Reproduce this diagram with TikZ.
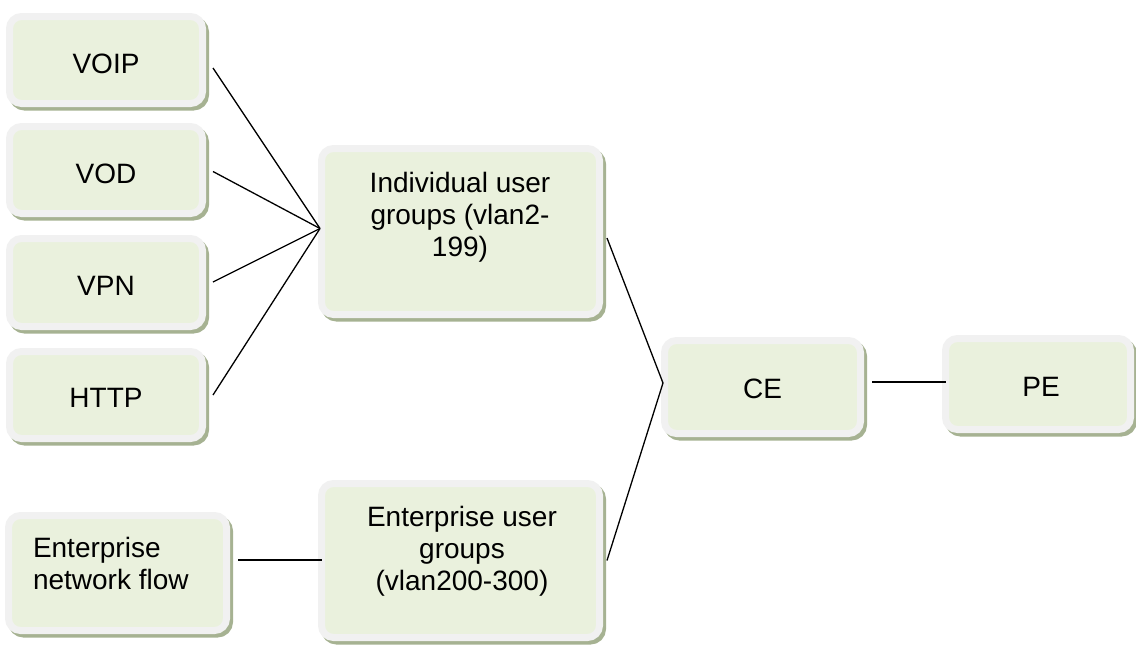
\documentclass[tikz,border=0pt]{standalone}
\usepackage{fontspec}
\setmainfont{Liberation Sans}
\usetikzlibrary{calc}
\definecolor{fillc}{HTML}{EAF1DD}
\definecolor{bordc}{HTML}{F1F1F1}
\definecolor{shadc}{HTML}{A6B292}
\tikzset{
  box/.style={draw=bordc, fill=fillc, line width=7pt, rounded corners=12pt,
    inner sep=0pt, outer sep=0pt,
    preaction={draw=shadc, fill=shadc, line width=7pt,
      transform canvas={shift={(3pt,-3.5pt)}}}},
  lbl/.style={inner sep=0pt, outer sep=0pt, anchor=base,
    font=\fontsize{28pt}{32pt}\selectfont, align=center},
  conn/.style={draw=black, line width=1.3pt}
}
\begin{document}
\begin{tikzpicture}[x=1pt,y=-1pt]
\useasboundingbox (0,0) rectangle (1136,646);
% boxes
\node[box, minimum width=193pt, minimum height=87pt] (voip) at (106,60) {};
\node[box, minimum width=193pt, minimum height=87pt] (vod) at (106,170) {};
\node[box, minimum width=193pt, minimum height=88pt] (vpn) at (106,282.5) {};
\node[box, minimum width=193pt, minimum height=87pt] (http) at (106,395) {};
\node[box, minimum width=278pt, minimum height=166pt] (ind) at (460.5,231.5) {};
\node[box, minimum width=218pt, minimum height=115pt] (enf) at (117.5,573) {};
\node[box, minimum width=278pt, minimum height=154pt] (eug) at (460.5,560.5) {};
\node[box, minimum width=196pt, minimum height=93pt] (ce) at (762.5,387) {};
\node[box, minimum width=185pt, minimum height=91pt] (pe) at (1038,384) {};
% labels (multi-line labels are placed by the baseline of their last line)
\node[lbl] (voipt) at (106,73) {VOIP};
\node[lbl] (vodt) at (106,183) {VOD};
\node[lbl] (vpnt) at (106,295) {VPN};
\node[lbl] (httpt) at (106,407) {HTTP};
\node[lbl] (indt) at (460,256.5) {Individual user\\groups (vlan2-\\199)};
\node[lbl, align=left, anchor=base west] (enft) at (33,589) {Enterprise\\network flow};
\node[lbl] (eugt) at (462,590.5) {Enterprise user\\groups\\(vlan200-300)};
\node[lbl] (cet) at (762.5,398) {CE};
\node[lbl] (pet) at (1041,396) {PE};
% connectors
\coordinate (hub) at ($(ind.west)+(-1.5,-3)$);
\coordinate (cehub) at ($(ce.west)+(-1.5,-4)$);
\draw[conn] ($(voip.east)+(10.5,8)$) -- (hub);
\draw[conn] ($(vod.east)+(10.5,1.5)$) -- (hub);
\draw[conn] ($(vpn.east)+(10.5,-0.5)$) -- (hub);
\draw[conn] ($(http.east)+(10.5,0)$) -- (hub);
\draw[conn] ($(ind.east)+(7.5,6.5)$) -- (cehub);
\draw[conn] ($(eug.east)+(7.5,0)$) -- (cehub);
\draw[conn] ($(ce.east)+(11.5,-5)$) -- ($(pe.west)+(0,-2)$);
\draw[conn] ($(enf.east)+(11.5,-13)$) -- ($(eug.west)+(0,-0.5)$);
\end{tikzpicture}
\end{document}
